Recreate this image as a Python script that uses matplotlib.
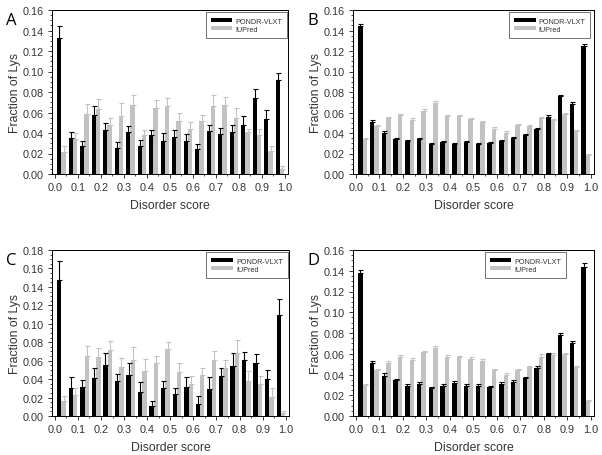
import numpy as np
import matplotlib
matplotlib.use("Agg")
import matplotlib.pyplot as plt
from matplotlib.ticker import MultipleLocator

plt.rcParams['font.family'] = ['Liberation Sans', 'DejaVu Sans']

bins = np.arange(0.0, 1.0, 0.05)
series_names = ["PONDR-VLXT", "IUPred"]
panel_labels = ["A", "B", "C", "D"]
ymax = [0.16, 0.16, 0.18, 0.16]

# Panel A
a_vlxt = [0.133, 0.035, 0.027, 0.058, 0.043, 0.025, 0.041, 0.027, 0.038, 0.032,
          0.036, 0.032, 0.024, 0.042, 0.039, 0.041, 0.048, 0.074, 0.054, 0.092]
a_vlxt_top = [0.144, 0.041, 0.032, 0.066, 0.050, 0.031, 0.047, 0.033, 0.043, 0.040,
              0.043, 0.039, 0.029, 0.048, 0.045, 0.048, 0.057, 0.083, 0.062, 0.099]
a_iup = [0.021, 0.034, 0.059, 0.063, 0.048, 0.057, 0.067, 0.038, 0.064, 0.066,
         0.052, 0.044, 0.052, 0.066, 0.067, 0.055, 0.041, 0.038, 0.022, 0.005]
a_iup_top = [0.027, 0.040, 0.068, 0.073, 0.055, 0.069, 0.077, 0.043, 0.072, 0.074,
             0.060, 0.051, 0.058, 0.077, 0.075, 0.064, 0.044, 0.044, 0.027, 0.008]

# Panel B
b_vlxt = [0.144, 0.051, 0.040, 0.034, 0.032, 0.034, 0.029, 0.031, 0.029, 0.031,
          0.029, 0.030, 0.032, 0.035, 0.038, 0.044, 0.056, 0.076, 0.068, 0.125]
b_vlxt_top = [0.146, 0.053, 0.042, 0.035, 0.033, 0.035, 0.030, 0.032, 0.030, 0.032,
              0.030, 0.031, 0.033, 0.036, 0.039, 0.045, 0.058, 0.077, 0.070, 0.127]
b_iup = [0.034, 0.047, 0.055, 0.058, 0.053, 0.061, 0.069, 0.057, 0.057, 0.054,
         0.051, 0.044, 0.040, 0.048, 0.047, 0.055, 0.053, 0.059, 0.042, 0.019]
b_iup_top = [0.035, 0.048, 0.056, 0.059, 0.055, 0.063, 0.071, 0.058, 0.058, 0.055,
             0.052, 0.046, 0.042, 0.049, 0.048, 0.056, 0.054, 0.060, 0.043, 0.020]

# Panel C
c_vlxt = [0.148, 0.030, 0.031, 0.041, 0.055, 0.038, 0.045, 0.026, 0.011, 0.030,
          0.024, 0.031, 0.013, 0.029, 0.043, 0.054, 0.061, 0.058, 0.040, 0.110]
c_vlxt_top = [0.168, 0.042, 0.039, 0.052, 0.068, 0.046, 0.057, 0.037, 0.016, 0.038,
              0.030, 0.042, 0.022, 0.042, 0.052, 0.068, 0.069, 0.067, 0.050, 0.127]
c_iup = [0.016, 0.023, 0.065, 0.064, 0.072, 0.053, 0.061, 0.049, 0.057, 0.073,
         0.048, 0.035, 0.044, 0.061, 0.052, 0.068, 0.038, 0.035, 0.021, 0.003]
c_iup_top = [0.022, 0.030, 0.076, 0.074, 0.081, 0.063, 0.075, 0.062, 0.065, 0.080,
             0.058, 0.043, 0.052, 0.071, 0.061, 0.082, 0.049, 0.043, 0.030, 0.005]

# Panel D
d_vlxt = [0.138, 0.051, 0.039, 0.035, 0.029, 0.031, 0.027, 0.029, 0.032, 0.029,
          0.029, 0.028, 0.031, 0.033, 0.037, 0.046, 0.060, 0.078, 0.070, 0.144]
d_vlxt_top = [0.141, 0.053, 0.041, 0.036, 0.031, 0.033, 0.028, 0.031, 0.034, 0.031,
              0.031, 0.029, 0.033, 0.035, 0.038, 0.048, 0.061, 0.080, 0.072, 0.147]
d_iup = [0.030, 0.044, 0.051, 0.057, 0.054, 0.062, 0.066, 0.057, 0.057, 0.055,
         0.053, 0.044, 0.040, 0.044, 0.047, 0.057, 0.059, 0.060, 0.047, 0.014]
d_iup_top = [0.031, 0.045, 0.053, 0.059, 0.056, 0.063, 0.067, 0.059, 0.058, 0.057,
             0.055, 0.045, 0.041, 0.045, 0.048, 0.060, 0.061, 0.061, 0.048, 0.015]

panels = [
    (a_vlxt, a_vlxt_top, a_iup, a_iup_top),
    (b_vlxt, b_vlxt_top, b_iup, b_iup_top),
    (c_vlxt, c_vlxt_top, c_iup, c_iup_top),
    (d_vlxt, d_vlxt_top, d_iup, d_iup_top),
]

W, H = 602, 456
fig = plt.figure(figsize=(W / 100, H / 100), dpi=100)

# pixel boxes: left, top, right, bottom
boxes = [(52, 11, 288, 175), (353, 11, 594, 175),
         (52, 251, 289, 417), (353, 251, 594, 417)]
legend_anchor = [(0.997, 0.985), (0.985, 0.985), (0.995, 0.985), (0.885, 0.985)]

black = "#000000"
gray = "#c2c2c2"
bw = 0.019

for i, (box, data) in enumerate(zip(boxes, panels)):
    l, t, r, b = box
    ax = fig.add_axes([l / W, 1 - b / H, (r - l) / W, (b - t) / H])
    v, vt, u, ut = [np.array(x) for x in data]
    xb = bins + 0.0195
    xg = bins + 0.0385
    ax.bar(xb, v, width=bw, color=black, label=series_names[0], zorder=2)
    ax.bar(xg, u, width=bw, color=gray, label=series_names[1], zorder=2)
    ax.errorbar(xb, v, yerr=[np.zeros_like(v), vt - v], fmt='none',
                ecolor=black, elinewidth=0.8, capsize=1.8, capthick=0.8, zorder=3)
    ax.errorbar(xg, u, yerr=[np.zeros_like(u), ut - u], fmt='none',
                ecolor=gray, elinewidth=0.8, capsize=1.8, capthick=0.8, zorder=3)
    ax.set_xlim(-0.012, 1.014)
    ax.set_ylim(0, ymax[i])
    ax.xaxis.set_major_locator(MultipleLocator(0.1))
    ax.xaxis.set_minor_locator(MultipleLocator(0.05))
    ax.yaxis.set_major_locator(MultipleLocator(0.02))
    ax.yaxis.set_minor_locator(MultipleLocator(0.005))
    ax.xaxis.set_major_formatter(matplotlib.ticker.FormatStrFormatter('%.1f'))
    ax.yaxis.set_major_formatter(matplotlib.ticker.FormatStrFormatter('%.2f'))
    ax.tick_params(axis='both', which='major', labelsize=7.8, length=3, width=0.7,
                   direction='out', colors='#333333', labelcolor='#333333', pad=3)
    ax.tick_params(axis='both', which='minor', length=1.5, width=0.5, direction='out')
    ax.tick_params(top=False, right=False)
    for s in ax.spines.values():
        s.set_linewidth(0.7)
    ax.set_xlabel("Disorder score", fontsize=8.8, labelpad=5, color='#333333')
    ax.set_ylabel("Fraction of Lys", fontsize=8.8, labelpad=1, color='#333333')
    leg = ax.legend(loc='upper right', bbox_to_anchor=legend_anchor[i],
                    fontsize=5.2, frameon=True, fancybox=False,
                    edgecolor='#333333', handlelength=3.0, handleheight=0.5,
                    borderpad=0.7, labelspacing=0.2, handletextpad=0.4,
                    borderaxespad=0.0)
    leg.get_frame().set_linewidth(0.6)
    for txt in leg.get_texts():
        txt.set_color('#333333')
    fig.text((l - 46) / W, 1 - (t + 10) / H, panel_labels[i], fontsize=12,
             ha='left', va='center', family=['Open Sans', 'DejaVu Sans'])

fig.savefig("out.png", dpi=100)
